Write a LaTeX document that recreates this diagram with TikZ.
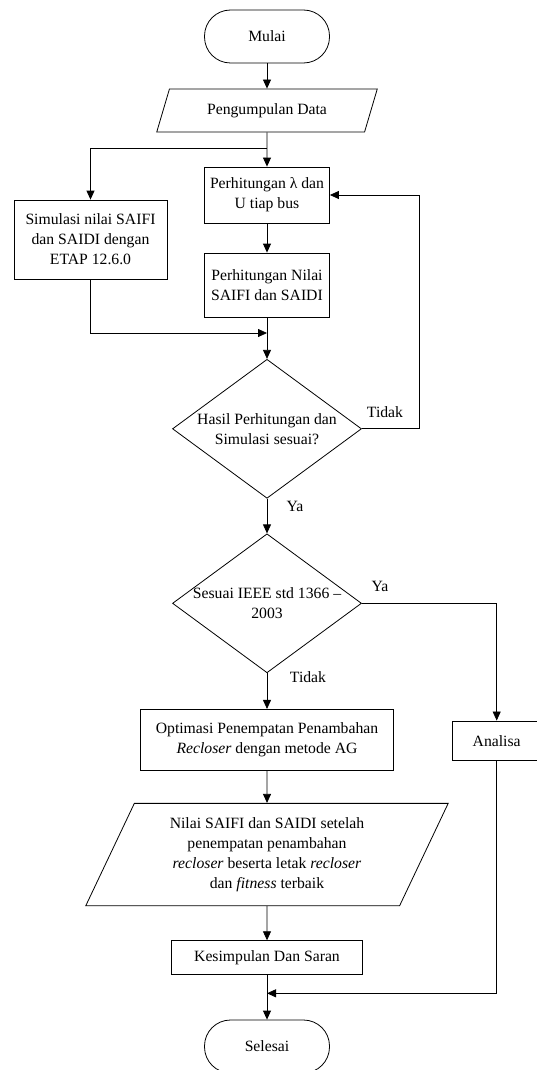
\documentclass[tikz,border=0pt]{standalone}
\usepackage{fontspec}
\setmainfont{Liberation Serif}
\usetikzlibrary{positioning, shapes.geometric, arrows.meta}

\begin{document}
\begin{tikzpicture}[
  x=1pt, y=-1pt,
  >={Triangle[length=9pt, width=8pt]},
  every node/.style={font=\fontsize{15.7}{20}\selectfont},
  line/.style={line width=0.8pt},
  terminal/.style={draw, line width=0.8pt, rounded corners=26pt, minimum width=125pt, minimum height=53pt},
  process/.style={draw, line width=0.8pt, align=center, inner sep=2pt},
  io/.style={draw, line width=0.8pt, trapezium, trapezium stretches=true, align=center, inner sep=2pt},
  decision/.style={draw, line width=0.8pt, diamond, minimum width=189pt, minimum height=139pt, inner sep=0pt},
  lbl/.style={inner sep=0pt}
]
\useasboundingbox (0,0) rectangle (536,1070);

% Start and data
\node[terminal] (mulai) at (267,36.5) {Mulai};
\node[io, trapezium left angle=66.2, trapezium right angle=113.8, minimum width=221pt, minimum height=43pt] (data) at (267,110.5) {Pengumpulan Data};

% Calculation and simulation
\node[process, minimum width=125pt, minimum height=56pt] (hitung) at (267,195) {Perhitungan λ dan\\U tiap bus};
\node[process, minimum width=153pt, minimum height=79pt] (simulasi) at (90.5,239.5) {Simulasi nilai SAIFI\\dan SAIDI dengan\\ETAP 12.6.0};
\node[process, minimum width=125pt, minimum height=64pt] (nilai) at (267,285) {Perhitungan Nilai\\SAIFI dan SAIDI};

% Decisions
\node[decision, label={[align=center]center:{Hasil Perhitungan dan\\Simulasi sesuai?}}] (cek) at (267,428.8) {};
\node[decision, label={[align=center]center:{Sesuai IEEE std 1366 –\\2003}}] (ieee) at (267,603.3) {};

% Optimisation and result
\node[process, minimum width=253pt, minimum height=60.7pt] (optimasi) at (267,739.7) {Optimasi Penempatan Penambahan\\\textit{Recloser} dengan metode AG};
\node[process, minimum width=89pt, minimum height=39.7pt] (analisa) at (496.7,740.8) {Analisa};
\node[io, trapezium left angle=65.1, trapezium right angle=114.9, minimum width=363.5pt, minimum height=102.3pt] (hasil) at (267,854.5)
  {Nilai SAIFI dan SAIDI setelah\\penempatan penambahan\\\textit{recloser} beserta letak \textit{recloser}\\dan \textit{fitness} terbaik};
\node[process, minimum width=191pt, minimum height=34pt] (kesimpulan) at (267,957.7) {Kesimpulan Dan Saran};
\node[terminal] (selesai) at (267,1046.5) {Selesai};

% Branch and merge points
\coordinate (cabang) at (267,148);
\coordinate (gabung) at (267,333);
\coordinate (gabung2) at (267,993.3);

% Connectors
\draw[line,->] (mulai) -- (data);
\draw[line,->] (data) -- (hitung);
\draw[line,->] (cabang) -| (simulasi);
\draw[line,->] (hitung) -- (nilai);
\draw[line,->] (nilai) -- (cek);
\draw[line,->] (simulasi) |- (gabung);
\draw[line,->] (cek.east) -- ++(57.8,0) |- (hitung.east);
\draw[line,->] (cek) -- (ieee);
\draw[line,->] (ieee.east) -| (analisa);
\draw[line,->] (ieee) -- (optimasi);
\draw[line,->] (optimasi) -- (hasil);
\draw[line,->] (hasil) -- (kesimpulan);
\draw[line,->] (kesimpulan) -- (selesai);
\draw[line,->] (analisa) |- (gabung2);

% Branch labels
\node[lbl] (tidak1) at (385,411.7) {Tidak};
\node[lbl] (ya1) at (295,506.7) {Ya};
\node[lbl] (ya2) at (380,586.7) {Ya};
\node[lbl] (tidak2) at (308,677) {Tidak};

\end{tikzpicture}
\end{document}
